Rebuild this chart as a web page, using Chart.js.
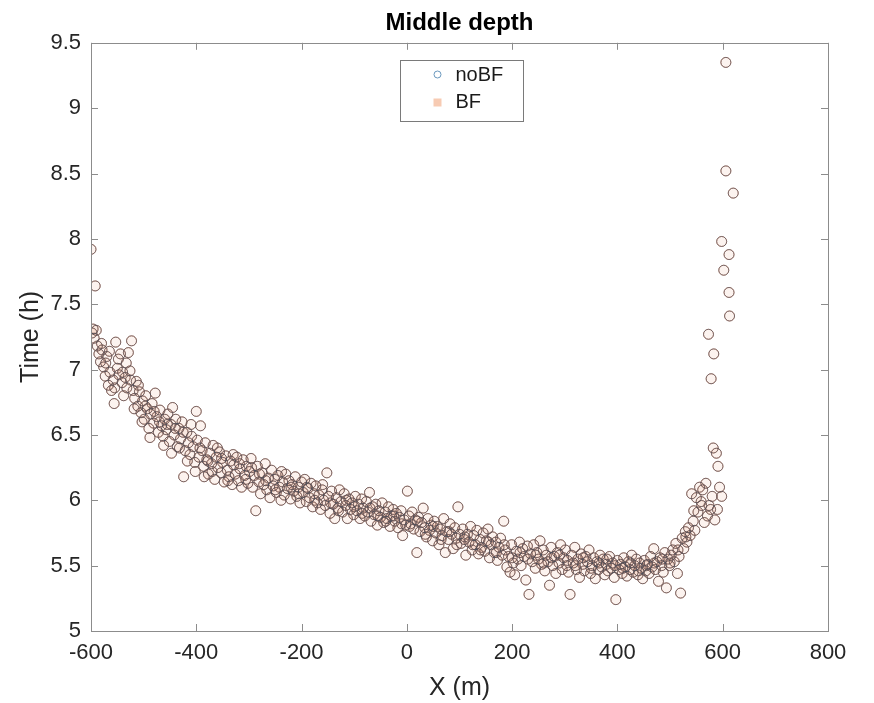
<!DOCTYPE html>
<html>
<head>
<meta charset="utf-8">
<script src="https://cdn.jsdelivr.net/npm/chart.js@4"></script>
<style>
  html, body { margin: 0; padding: 0; background: #ffffff; }
  #c { display: block; }
</style>
</head>
<body>
<canvas id="c" width="874" height="703"></canvas>
<script>
// ---------- data ----------
const chartTitle = 'Middle depth';
const xAxisTitle = 'X (m)';
const yAxisTitle = 'Time (h)';
const seriesNames = ['noBF', 'BF'];
const xTickLabels = ['-600', '-400', '-200', '0', '200', '400', '600', '800'];
const yTickLabels = ['5', '5.5', '6', '6.5', '7', '7.5', '8', '8.5', '9', '9.5'];

const xPos = [
  -600,-598,-596,-594,-592,-590,-588,-585,-582,-579,-576,-573,-570,-567,-564,-561,-558,-556,-553,-550,
  -547,-544,-541,-538,-535,-532,-529,-526,-523,-520,-517,-514,-511,-508,-505,-502,
  -499,-496,-493,-490,-487,-484,-481,-478,-475,-472,-469,-466,-463,-460,-457,-454,-451,-448,-445,-442,
  -439,-436,-433,-430,-427,-424,-421,-418,-415,-412,-409,-406,-403,-400,-398,-395,-392,
  -389,-386,-383,-380,-377,-374,-371,-368,-365,-362,-359,-356,-353,-350,-347,-344,-341,-338,-335,-332,
  -329,-326,-323,-320,-317,-314,-311,-308,-305,-302,
  -299,-296,-293,-290,-287,-284,-281,-278,-275,-272,-269,-266,-263,-260,-257,-254,-251,-248,-245,-242,
  -239,-236,-233,-230,-227,-224,-221,-218,-215,-212,-209,-206,-203,-200,
  -197,-194,-191,-188,-185,-182,-179,-176,-173,-170,-167,-164,-161,-158,-155,-152,-149,-146,-143,-140,
  -137,-134,-131,-128,-125,-122,-119,-116,-113,-110,-107,-104,-101,
  -98,-95,-92,-89,-86,-83,-80,-77,-74,-71,-68,-65,-62,-59,-56,-53,-50,-47,-44,-41,
  -38,-35,-32,-29,-26,-23,-20,-17,-14,-11,-8,-5,-2,
  1,4,7,10,13,16,19,22,25,28,31,34,37,40,43,46,49,52,55,58,
  61,64,67,70,73,76,79,82,85,88,91,94,97,100,
  103,106,109,112,115,118,121,124,127,130,133,136,139,142,145,148,151,154,157,160,
  163,166,169,172,175,178,181,184,187,190,193,196,199,
  202,205,208,211,214,217,220,223,226,229,232,235,238,241,244,247,250,253,256,259,
  262,265,268,271,274,277,280,283,286,289,292,295,298,
  301,304,307,310,313,316,319,322,325,328,331,334,337,340,343,346,349,352,355,358,
  361,364,367,370,373,376,379,382,385,388,391,394,397,400,
  403,406,409,412,415,418,421,424,427,430,433,436,439,442,445,448,451,454,457,460,
  463,466,469,472,475,478,481,484,487,490,493,496,499,
  502,505,508,511,514,517,520,523,526,529,532,535,538,541,544,547,550,553,556,559,
  562,565,568,571,574,577,580,585,590,594,598,
  573,583,578,582,588,591,598,602,612,612,613,606,620,606,
  -580,-572,-565,-555,-548,-540,-533,-525,-518,-510,-503,-497,-488,-480,-470,-462,-455,-447,-440,-432,
  -425,-417,-410,-402,-393,-385,-378,-370,-360,-352,-340,-330,-318,-306,-295,-280,-268,-250,-238,-220,
  -205,-190,-175,-160,-145,-130,-115,-100,-85,-70,-55,-40,-25,-10,5,20,35,50,65,80,
  95,110,125,140,155,170,185,200,215,230,245,260,275,290,305,320,335,350,365,380,
  395,410,425,440,455,470,485,500,515,530,545,560
];

const timeNoBF = [
  7.92,7.28,7.31,7.24,7.64,7.30,7.18,7.12,7.06,7.15,7.02,6.95,7.10,6.88,6.98,6.84,6.92,6.74,7.21,7.01,
  6.96,7.12,6.90,6.80,6.94,6.86,7.13,6.99,7.22,6.84,6.78,6.91,6.72,6.83,6.67,6.76,
  6.62,6.80,6.70,6.55,6.66,6.74,6.59,6.82,6.64,6.52,6.69,6.57,6.49,6.62,6.54,6.66,6.45,6.58,6.71,6.50,
  6.62,6.41,6.55,6.47,6.60,6.18,6.38,6.52,6.44,6.35,6.49,6.41,6.29,6.68,6.46,6.33,6.57,
  6.38,6.26,6.44,6.31,6.20,6.36,6.28,6.42,6.16,6.33,6.25,6.37,6.21,6.29,6.14,6.34,6.23,6.18,6.30,6.12,
  6.27,6.20,6.33,6.15,6.24,6.10,6.31,6.19,6.26,6.13,
  6.22,6.32,6.10,6.19,5.92,6.26,6.14,6.05,6.21,6.12,6.28,6.08,6.17,6.02,6.23,6.11,6.16,6.06,6.19,6.10,
  6.00,6.14,6.04,6.20,6.09,6.15,6.01,6.12,6.07,6.18,6.03,6.10,5.98,6.14,
  6.06,6.16,5.99,6.09,6.02,6.13,5.95,6.05,6.11,5.98,6.04,5.93,6.08,6.00,5.96,6.21,6.03,5.90,6.07,5.97,
  5.86,6.02,5.94,6.08,5.99,5.91,6.05,5.96,5.86,6.01,5.93,5.98,5.89,
  6.03,5.92,5.97,5.86,6.01,5.94,5.88,5.99,5.91,6.06,5.84,5.95,5.89,5.97,5.81,5.92,5.87,5.98,5.83,5.91,
  5.86,5.95,5.80,5.88,5.93,5.84,5.90,5.79,5.87,5.92,5.73,5.85,5.81,
  6.07,5.88,5.82,5.91,5.78,5.85,5.60,5.87,5.76,5.83,5.94,5.79,5.72,5.86,5.77,5.81,5.69,5.84,5.75,5.80,
  5.66,5.78,5.73,5.86,5.60,5.76,5.70,5.82,5.74,5.63,5.79,5.71,5.95,5.74,
  5.67,5.78,5.70,5.58,5.74,5.68,5.80,5.62,5.73,5.66,5.77,5.59,5.70,5.64,5.75,5.61,5.69,5.78,5.56,5.66,
  5.72,5.60,5.68,5.54,5.64,5.71,5.58,5.84,5.62,5.49,5.57,5.45,5.66,
  5.52,5.43,5.61,5.55,5.68,5.50,5.63,5.57,5.39,5.65,5.28,5.59,5.53,5.66,5.48,5.60,5.55,5.69,5.51,5.62,
  5.46,5.58,5.53,5.35,5.64,5.50,5.57,5.44,5.60,5.52,5.66,5.47,5.56,
  5.62,5.50,5.45,5.28,5.58,5.52,5.64,5.47,5.55,5.41,5.59,5.51,5.46,5.57,5.53,5.62,5.44,5.50,5.56,5.40,
  5.53,5.47,5.58,5.49,5.55,5.43,5.51,5.46,5.57,5.48,5.52,5.41,5.24,5.54,
  5.47,5.51,5.44,5.56,5.49,5.42,5.53,5.47,5.58,5.45,5.50,5.55,5.43,5.52,5.48,5.40,5.54,5.46,5.51,5.44,
  5.57,5.49,5.63,5.47,5.53,5.38,5.56,5.50,5.45,5.60,5.33,5.55,5.50,
  5.58,5.62,5.53,5.67,5.44,5.57,5.29,5.71,5.63,5.76,5.68,5.79,5.73,6.05,5.84,5.77,6.02,5.91,6.10,5.99,
  6.08,5.83,6.13,5.88,5.96,5.93,6.03,5.85,5.93,6.10,6.03,
  7.27,7.12,6.93,6.40,6.36,6.26,7.98,7.76,7.88,7.59,7.41,8.52,8.35,9.35,
  7.20,7.05,7.14,6.86,7.08,6.98,7.05,6.92,6.70,6.88,6.60,6.72,6.48,6.68,6.60,6.42,6.58,6.36,6.55,6.40,
  6.52,6.30,6.58,6.22,6.40,6.18,6.30,6.22,6.40,6.32,6.15,6.35,6.28,6.16,6.25,6.20,6.15,6.08,6.22,6.10,
  6.05,6.10,6.00,6.12,5.98,5.92,6.00,5.95,5.90,5.94,5.88,5.84,5.88,5.82,5.80,5.84,5.74,5.80,5.70,5.76,
  5.66,5.72,5.66,5.62,5.68,5.60,5.66,5.56,5.60,5.55,5.58,5.52,5.56,5.58,5.54,5.50,5.56,5.48,5.52,5.55,
  5.50,5.48,5.52,5.46,5.50,5.52,5.55,5.52,5.62,5.72,5.92,5.96
];
// BF markers sit on the noBF markers everywhere in the picture
const timeBF = timeNoBF;

// ---------- chart ----------
const FONT = "'Liberation Sans', Arial, Helvetica, sans-serif";
const noBFPoints = xPos.map((x, i) => ({ x: x, y: timeNoBF[i] }));
const bfPoints = xPos.map((x, i) => ({ x: x, y: timeBF[i] }));

const frameAndLegend = {
  id: 'frameAndLegend',
  afterDraw(chart) {
    const { ctx, chartArea: a, scales: { x, y } } = chart;
    ctx.save();
    ctx.strokeStyle = '#8c8c8c';
    ctx.lineWidth = 1;
    ctx.strokeRect(Math.round(a.left) + 0.5, Math.round(a.top) + 0.5,
                   Math.round(a.right - a.left), Math.round(a.bottom - a.top));
    const tl = 7;
    ctx.beginPath();
    x.ticks.forEach(t => {
      const px = Math.round(x.getPixelForValue(t.value)) + 0.5;
      ctx.moveTo(px, a.bottom); ctx.lineTo(px, a.bottom - tl);
      ctx.moveTo(px, a.top); ctx.lineTo(px, a.top + tl);
    });
    y.ticks.forEach(t => {
      const py = Math.round(y.getPixelForValue(t.value)) + 0.5;
      ctx.moveTo(a.left, py); ctx.lineTo(a.left + tl, py);
      ctx.moveTo(a.right, py); ctx.lineTo(a.right - tl, py);
    });
    ctx.stroke();

    // legend box
    const w = 123, h = 61;
    const lx = Math.round((a.left + a.right) / 2 - w / 2 + 2) + 0.5;
    const ly = Math.round(a.top + 17) + 0.5;
    ctx.fillStyle = '#ffffff';
    ctx.fillRect(lx, ly, w, h);
    ctx.strokeStyle = '#7a7a7a';
    ctx.strokeRect(lx, ly, w, h);
    // noBF marker
    ctx.beginPath();
    ctx.strokeStyle = 'rgba(60,120,170,0.75)';
    ctx.arc(lx + 37, ly + 14, 3.5, 0, Math.PI * 2);
    ctx.stroke();
    // BF marker
    ctx.fillStyle = 'rgba(245,190,160,0.8)';
    ctx.fillRect(lx + 33, ly + 38, 8, 8);
    ctx.fillStyle = '#1a1a1a';
    ctx.font = '20px ' + FONT;
    ctx.textBaseline = 'middle';
    ctx.textAlign = 'left';
    ctx.fillText(seriesNames[0], lx + 55, ly + 15);
    ctx.fillText(seriesNames[1], lx + 55, ly + 42);
    ctx.restore();
  }
};

new Chart(document.getElementById('c'), {
  type: 'scatter',
  data: {
    datasets: [
      {
        label: seriesNames[0],
        data: noBFPoints,
        pointStyle: 'circle',
        pointRadius: 5,
        borderWidth: 1,
        borderColor: 'rgba(70,80,95,0.7)',
        backgroundColor: 'rgba(0,0,0,0)'
      },
      {
        label: seriesNames[1],
        data: bfPoints,
        pointStyle: 'circle',
        pointRadius: 5,
        borderWidth: 1,
        borderColor: 'rgba(217,83,25,0.55)',
        backgroundColor: 'rgba(217,83,25,0.07)'
      }
    ]
  },
  options: {
    responsive: false,
    animation: false,
    layout: { padding: { left: 0, right: 46, top: 0, bottom: 0 } },
    plugins: {
      legend: { display: false },
      tooltip: { enabled: false },
      title: {
        display: true,
        text: chartTitle,
        fullSize: false,
        color: '#000000',
        font: { family: FONT, size: 24, weight: 'bold' },
        padding: { top: 9, bottom: 5 }
      }
    },
    scales: {
      x: {
        type: 'linear',
        min: -600, max: 800,
        afterFit(s) { s.height = 72; },
        ticks: {
          stepSize: 200,
          maxRotation: 0,
          autoSkip: false,
          padding: 9,
          color: '#262626',
          font: { family: FONT, size: 22 },
          callback: (v) => xTickLabels[Math.round((v + 600) / 200)]
        },
        grid: { display: false, drawTicks: false },
        border: { display: false },
        title: {
          display: true, text: xAxisTitle, color: '#262626',
          font: { family: FONT, size: 25 },
          padding: { top: 0, bottom: 0 }
        }
      },
      y: {
        type: 'linear',
        min: 5, max: 9.5,
        afterFit(s) { s.width = 91; },
        ticks: {
          stepSize: 0.5,
          autoSkip: false,
          padding: 10,
          color: '#262626',
          font: { family: FONT, size: 22 },
          callback: (v) => yTickLabels[Math.round((v - 5) / 0.5)]
        },
        grid: { display: false, drawTicks: false },
        border: { display: false },
        title: {
          display: true, text: yAxisTitle, color: '#262626',
          font: { family: FONT, size: 25 },
          padding: { top: 16, bottom: 0 }
        }
      }
    }
  },
  plugins: [frameAndLegend]
});
</script>
</body>
</html>
